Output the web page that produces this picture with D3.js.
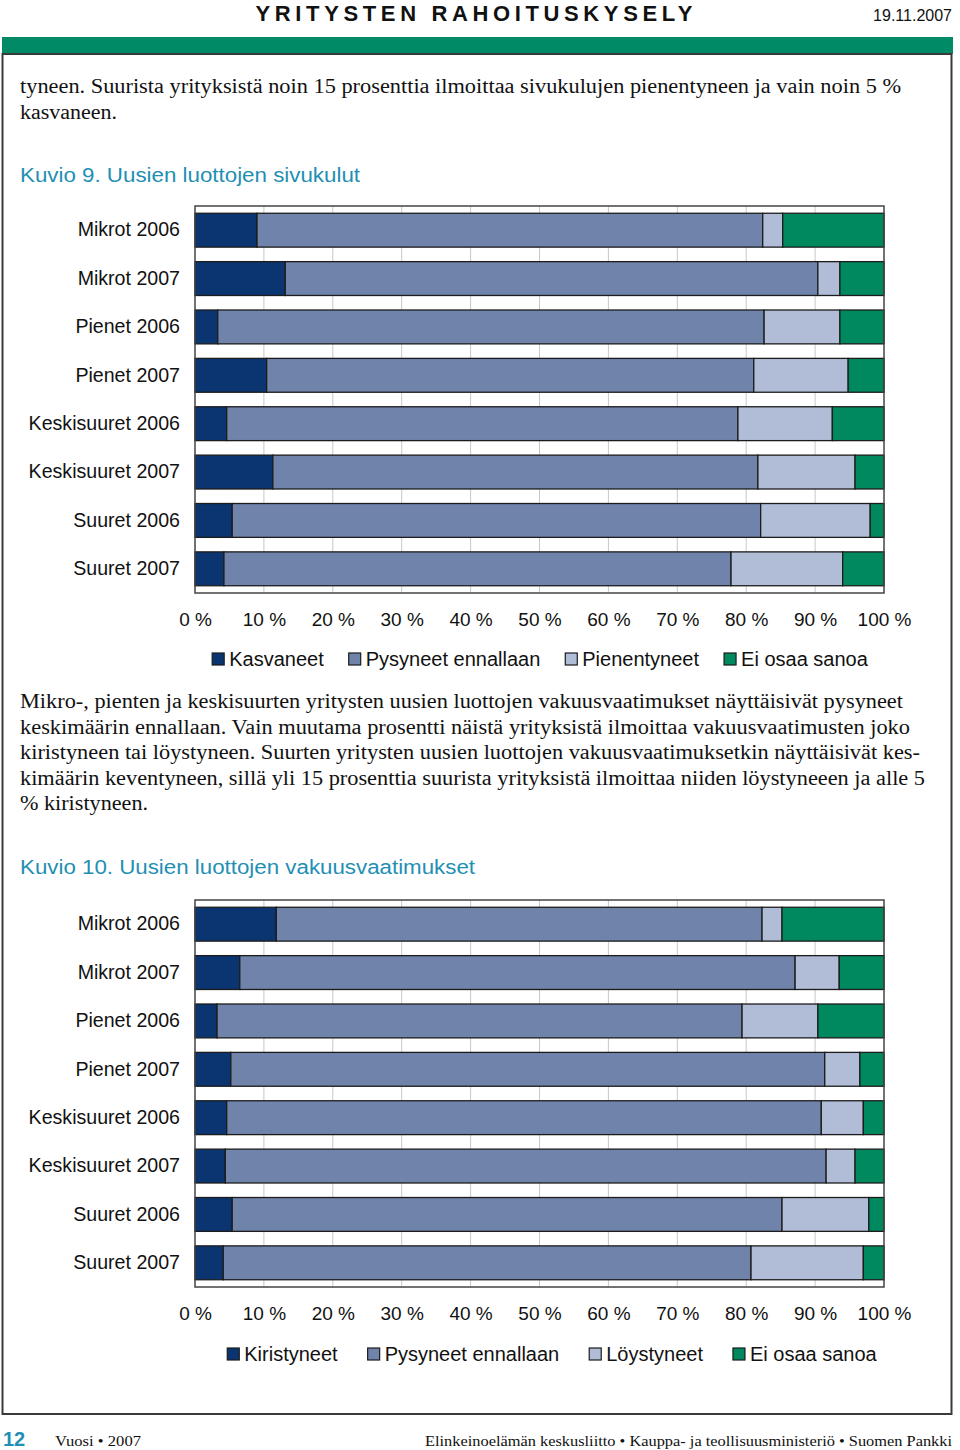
<!DOCTYPE html>
<html><head><meta charset="utf-8">
<script src="https://cdn.jsdelivr.net/npm/d3@7"></script>
<style>
html,body{margin:0;padding:0;background:#fff;}
svg{display:block;}
</style></head>
<body>
<svg id="page" width="960" height="1450"></svg>
<script>
// ---- data ----
const categories = ["Mikrot 2006","Mikrot 2007","Pienet 2006","Pienet 2007","Keskisuuret 2006","Keskisuuret 2007","Suuret 2006","Suuret 2007"];
const ticks = [0,10,20,30,40,50,60,70,80,90,100];
const tickLabels = ["0 %","10 %","20 %","30 %","40 %","50 %","60 %","70 %","80 %","90 %","100 %"];

// Kuvio 9
const series1Names = ["Kasvaneet","Pysyneet ennallaan","Pienentyneet","Ei osaa sanoa"];
const s1Kasvaneet    = [9.0, 13.1, 3.3, 10.4, 4.6, 11.3, 5.4, 4.2];
const s1Pysyneet     = [73.4, 77.3, 79.3, 70.7, 74.2, 70.4, 76.7, 73.6];
const s1Pienentyneet = [2.9, 3.2, 11.0, 13.7, 13.7, 14.1, 15.9, 16.2];
const s1EiOsaa       = [14.7, 6.4, 6.4, 5.2, 7.5, 4.2, 2.0, 6.0];

// Kuvio 10
const series2Names = ["Kiristyneet","Pysyneet ennallaan","Löystyneet","Ei osaa sanoa"];
const s2Kiristyneet  = [11.8, 6.5, 3.2, 5.2, 4.6, 4.4, 5.4, 4.1];
const s2Pysyneet     = [70.5, 80.6, 76.2, 86.2, 86.3, 87.2, 79.8, 76.6];
const s2Loystyneet   = [2.9, 6.4, 11.0, 5.1, 6.1, 4.2, 12.6, 16.3];
const s2EiOsaa       = [14.8, 6.5, 9.6, 3.5, 3.0, 4.2, 2.2, 3.0];

const colors = ["#0b3571","#7083ab","#b1bcd6","#00895f"];

const svg = d3.select("#page");
const sans = "Arial, 'Liberation Sans', Helvetica, sans-serif";
const serif = "'Times New Roman', 'Liberation Serif', Times, serif";
const teal = "#1f8fb3";

// ---- page furniture ----
svg.append("text").attr("x",474).attr("y",21).attr("text-anchor","middle")
  .attr("font-family",sans).attr("font-weight","bold").attr("font-size",22)
  .attr("textLength",437).attr("lengthAdjust","spacing")
  .attr("fill","#111").text("YRITYSTEN RAHOITUSKYSELY");
svg.append("text").attr("x",952).attr("y",21).attr("text-anchor","end")
  .attr("font-family",sans).attr("font-size",16).attr("fill","#111").text("19.11.2007");
svg.append("rect").attr("x",2).attr("y",37).attr("width",951).attr("height",17).attr("fill","#008a66");
svg.append("rect").attr("x",2.5).attr("y",54).attr("width",949).attr("height",1360)
  .attr("fill","none").attr("stroke","#3a3a3a").attr("stroke-width",2);

function textLine(x,y,str,len,size,font,color){
  const t = svg.append("text").attr("x",x).attr("y",y).attr("font-family",font||serif)
    .attr("font-size",size||20).attr("fill",color||"#111").text(str);
  if(len) t.attr("textLength",len).attr("lengthAdjust","spacingAndGlyphs");
  return t;
}
textLine(20,93,"tyneen. Suurista yrityksistä noin 15 prosenttia ilmoittaa sivukulujen pienentyneen ja vain noin 5 %",881);
textLine(20,119,"kasvaneen.",97);
textLine(20,182,"Kuvio 9. Uusien luottojen sivukulut",340,20,sans,teal);

textLine(20,708,"Mikro-, pienten ja keskisuurten yritysten uusien luottojen vakuusvaatimukset näyttäisivät pysyneet",883);
textLine(20,734,"keskimäärin ennallaan. Vain muutama prosentti näistä yrityksistä ilmoittaa vakuusvaatimusten joko",890);
textLine(20,759,"kiristyneen tai löystyneen. Suurten yritysten uusien luottojen vakuusvaatimuksetkin näyttäisivät kes-",900);
textLine(20,785,"kimäärin keventyneen, sillä yli 15 prosenttia suurista yrityksistä ilmoittaa niiden löystyneeen ja alle 5",905);
textLine(20,810,"% kiristyneen.",128);
textLine(20,874,"Kuvio 10. Uusien luottojen vakuusvaatimukset",455,20,sans,teal);

// footer
svg.append("text").attr("x",3).attr("y",1446).attr("font-family",sans).attr("font-weight","bold")
  .attr("font-size",20).attr("fill",teal).text("12");
textLine(55,1446,"Vuosi • 2007",86,15);
svg.append("text").attr("x",952).attr("y",1446).attr("text-anchor","end")
  .attr("font-family",serif).attr("font-size",15).attr("fill","#111")
  .attr("textLength",527).attr("lengthAdjust","spacingAndGlyphs")
  .text("Elinkeinoelämän keskusliitto • Kauppa- ja teollisuusministeriö • Suomen Pankki");

// ---- chart function ----
function drawChart(top, bottom, names, arrays, legendY, legendCenter, gap){
  const x = d3.scaleLinear().domain([0,100]).range([195,884]);
  const y = d3.scaleBand().domain(categories).range([top,bottom]).paddingInner(0.3).paddingOuter(0.15);
  const rows = categories.map((c,i)=>{ const o={cat:c}; names.forEach((n,j)=>o[n]=arrays[j][i]); return o; });
  const stack = d3.stack().keys(names)(rows);
  const g = svg.append("g");
  // grid
  g.selectAll("line.grid").data(ticks.slice(1,-1)).join("line")
    .attr("x1",d=>x(d)).attr("x2",d=>x(d)).attr("y1",top).attr("y2",bottom)
    .attr("stroke","#c8c8c8").attr("stroke-width",1);
  // bars
  stack.forEach((s,j)=>{
    g.selectAll(null).data(s).join("rect")
      .attr("x",d=>x(d[0])).attr("width",d=>x(d[1])-x(d[0]))
      .attr("y",d=>y(d.data.cat)).attr("height",y.bandwidth())
      .attr("fill",colors[j]).attr("stroke","#1c1c1c").attr("stroke-width",1.3);
  });
  // frame
  g.append("rect").attr("x",195).attr("y",top).attr("width",689).attr("height",bottom-top)
    .attr("fill","none").attr("stroke","#444").attr("stroke-width",1.5);
  // y labels
  const ya = d3.axisLeft(y).tickSize(0).tickPadding(15);
  const yg = svg.append("g").attr("transform","translate(195,0)").call(ya);
  yg.select(".domain").remove();
  yg.selectAll("text").attr("font-family",sans).attr("font-size",19.6).attr("fill","#111");
  // x ticks
  const xa = d3.axisBottom(x).tickValues(ticks).tickFormat((d,i)=>tickLabels[i]).tickSize(0).tickPadding(20);
  const xg = svg.append("g").attr("transform",`translate(0,${bottom})`).call(xa);
  xg.select(".domain").remove();
  xg.selectAll("text").attr("font-family",sans).attr("font-size",19).attr("fill","#111");
  // legend
  const lg = svg.append("g");
  const items = names.map((n,j)=>{
    const it = lg.append("g");
    it.append("rect").attr("x",0).attr("y",-13).attr("width",12).attr("height",12)
      .attr("fill",colors[j]).attr("stroke","#1c1c1c").attr("stroke-width",1.2);
    const t = it.append("text").attr("x",17).attr("y",0).attr("font-family",sans).attr("font-size",20)
      .attr("fill","#111").text(n);
    return {it, w:17+t.node().getComputedTextLength()};
  });
  const total = d3.sum(items,d=>d.w)+gap*(items.length-1);
  let cx = legendCenter - total/2;
  items.forEach(d=>{ d.it.attr("transform",`translate(${cx},${legendY})`); cx += d.w+gap; });
}

drawChart(206, 593, series1Names, [s1Kasvaneet,s1Pysyneet,s1Pienentyneet,s1EiOsaa], 666, 540, 25);
drawChart(900, 1287, series2Names, [s2Kiristyneet,s2Pysyneet,s2Loystyneet,s2EiOsaa], 1361, 552, 30);
</script>
</body></html>
